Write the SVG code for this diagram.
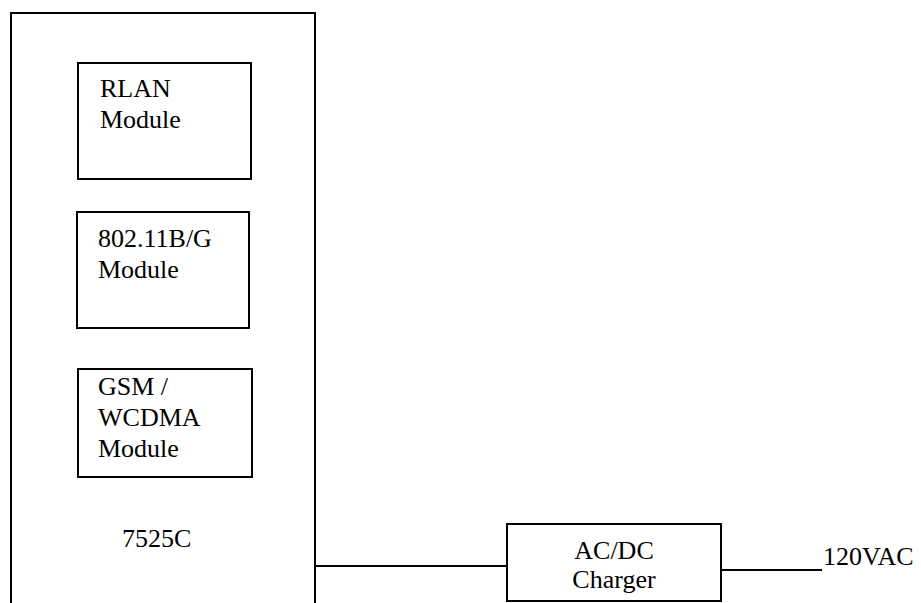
<svg xmlns="http://www.w3.org/2000/svg" width="921" height="603" viewBox="0 0 921 603">
  <style>
    .box { fill: #ffffff; stroke: #000000; stroke-width: 2; }
    .wire { fill: none; stroke: #000000; stroke-width: 2; }
    .lbl { font-family: "Liberation Serif", "Times New Roman", serif; font-size: 26px; fill: #000000; }
  </style>
  <rect width="921" height="603" fill="#ffffff"/>

  <!-- connectors -->
  <g id="connectors">
    <line class="wire" x1="315" y1="566" x2="507" y2="566"/>
    <line class="wire" x1="721" y1="570" x2="822" y2="570"/>
  </g>

  <!-- handset enclosure -->
  <g id="unit-7525c">
    <rect class="box" x="11" y="13" width="304" height="620"/>
    <text class="lbl" x="122" y="547">7525C</text>
  </g>

  <g id="rlan-module">
    <rect class="box" x="78" y="63" width="173" height="116"/>
    <text class="lbl" x="100" y="97">RLAN</text>
    <text class="lbl" x="100" y="128">Module</text>
  </g>

  <g id="wlan-module">
    <rect class="box" x="77" y="212" width="172" height="116"/>
    <text class="lbl" x="98" y="247">802.11B/G</text>
    <text class="lbl" x="98" y="278">Module</text>
  </g>

  <g id="gsm-module">
    <rect class="box" x="78" y="369" width="174" height="108"/>
    <text class="lbl" x="98" y="395">GSM /</text>
    <text class="lbl" x="98" y="426">WCDMA</text>
    <text class="lbl" x="98" y="457">Module</text>
  </g>

  <g id="charger">
    <rect class="box" x="507" y="524" width="214" height="77"/>
    <text class="lbl" x="614" y="559" text-anchor="middle">AC/DC</text>
    <text class="lbl" x="614" y="588" text-anchor="middle">Charger</text>
  </g>

  <g id="mains">
    <text class="lbl" x="823" y="565">120VAC</text>
  </g>
</svg>
